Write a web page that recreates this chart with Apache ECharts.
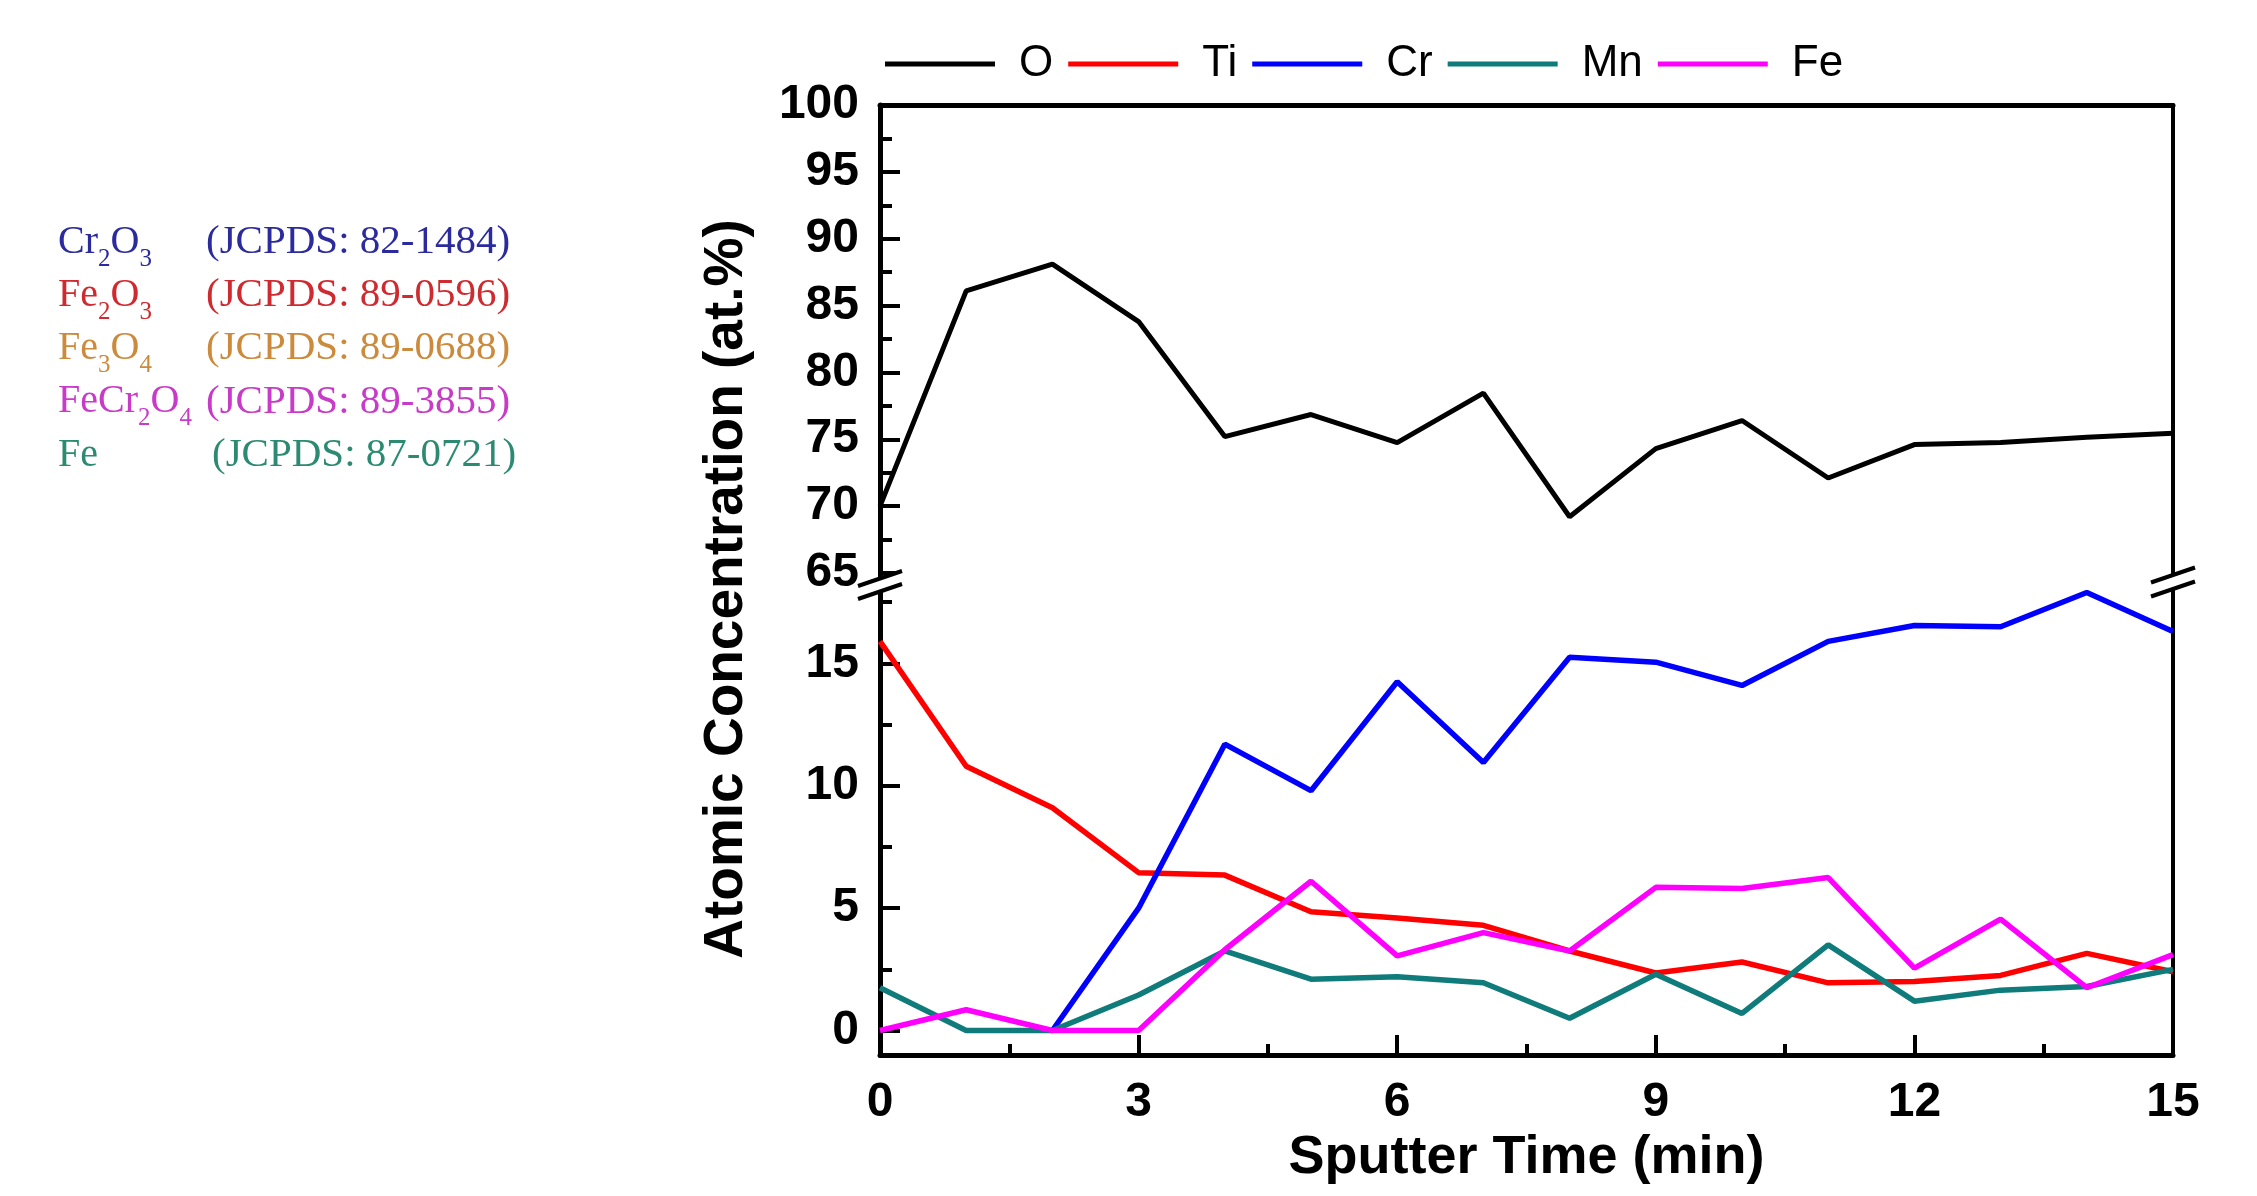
<!DOCTYPE html>
<html>
<head>
<meta charset="utf-8">
<script src="https://cdn.jsdelivr.net/npm/echarts@6/dist/echarts.min.js"></script>
<style>html,body{margin:0;padding:0;background:#fff}#c{width:2257px;height:1196px}</style>
</head>
<body>
<div id="c"></div>
<script>
// ---------- data ----------
const sputterTime = [0, 1, 2, 3, 4, 5, 6, 7, 8, 9, 10, 11, 12, 13, 14, 15];
const seriesNames = ['O', 'Ti', 'Cr', 'Mn', 'Fe'];
const seriesColors = ['#000000', '#ff0000', '#0000ff', '#0f7b7b', '#ff00ff'];
const O  = [70.0, 86.1, 88.1, 83.8, 75.2, 76.85, 74.75, 78.45, 69.2, 74.3, 76.4, 72.1, 74.6, 74.75, 75.15, 75.45];
const Ti = [15.9, 10.8, 9.1, 6.45, 6.35, 4.85, 4.6, 4.3, 3.25, 2.35, 2.8, 1.95, 2.0, 2.25, 3.15, 2.4];
const Cr = [null, null, 0, 5.0, 11.7, 9.8, 14.25, 10.95, 15.25, 15.05, 14.1, 15.9, 16.55, 16.5, 17.9, 16.3];
const Mn = [1.75, 0, 0, 1.45, 3.25, 2.1, 2.2, 1.95, 0.5, 2.3, 0.7, 3.5, 1.2, 1.65, 1.8, 2.5];
const Fe = [0, 0.85, 0, 0, 3.3, 6.1, 3.05, 4.0, 3.25, 5.85, 5.8, 6.25, 2.55, 4.55, 1.75, 3.1];

const xTickInterval = 3;
const upperRange = [64.6, 100];
const upperTicks = [65, 70, 75, 80, 85, 90, 95, 100];
const upperMinorTicks = [67.5, 72.5, 77.5, 82.5, 87.5, 92.5, 97.5];
const lowerRange = [-1, 18];
const lowerTicks = [0, 5, 10, 15];
const lowerMinorTicks = [2.5, 7.5, 12.5, 17.5];

const xTitle = 'Sputter Time (min)';
const yTitle = 'Atomic Concentration (at.%)';

const phaseFormulas = ['Cr_2O_3', 'Fe_2O_3', 'Fe_3O_4', 'FeCr_2O_4', 'Fe'];
const phaseRefs = ['(JCPDS: 82-1484)', '(JCPDS: 89-0596)', '(JCPDS: 89-0688)', '(JCPDS: 89-3855)', '(JCPDS: 87-0721)'];
const phaseColors = ['#2b2b9e', '#cf2a2f', '#cc8a3c', '#c83ac8', '#2c8a72'];

// ---------- layout ----------
const PL = 880, PR = 2173;
const UT = 105, UB = 578.3;
const LT = 590, LB = 1055;
const FONT = "'Liberation Sans', Arial, sans-serif";
const SERIF = "'Liberation Serif', 'Times New Roman', serif";
const AXW = 5;

function pairs(arr) { return arr.map((v, i) => [sputterTime[i], v]); }

const tickLabel = { fontFamily: FONT, fontWeight: 'bold', fontSize: 48, color: '#000' };

function yAxesFor(gridIndex, range, ticks, minorTicks) {
  return [
    { gridIndex, type: 'value', position: 'left', min: range[0], max: range[1],
      axisLine: { show: true, onZero: false, lineStyle: { color: '#000', width: AXW } },
      axisTick: { show: true, inside: true, length: 20, customValues: ticks, lineStyle: { color: '#000', width: 4 } },
      axisLabel: Object.assign({ show: true, margin: 21, customValues: ticks }, tickLabel),
      splitLine: { show: false } },
    { gridIndex, type: 'value', position: 'left', min: range[0], max: range[1],
      axisLine: { show: false },
      axisTick: { show: true, inside: true, length: 12, customValues: minorTicks, lineStyle: { color: '#000', width: 4 } },
      axisLabel: { show: false }, splitLine: { show: false } },
    { gridIndex, type: 'value', position: 'right', min: range[0], max: range[1],
      axisLine: { show: true, onZero: false, lineStyle: { color: '#000', width: 4 } },
      axisTick: { show: false }, axisLabel: { show: false }, splitLine: { show: false } }
  ];
}

function formulaRich(f) {
  return f.replace(/_(\d)/g, '{s|$1}');
}

function breakMark(cx, cy1, cy2) {
  const dx = 22, dy = 7.5;
  return [
    { type: 'polygon', z: 100, shape: { points: [[cx - dx, cy1 + dy], [cx + dx, cy1 - dy], [cx + dx, cy2 - dy], [cx - dx, cy2 + dy]] },
      style: { fill: '#fff' } },
    { type: 'line', z: 101, shape: { x1: cx - dx, y1: cy1 + dy, x2: cx + dx, y2: cy1 - dy }, style: { stroke: '#000', lineWidth: 4 } },
    { type: 'line', z: 101, shape: { x1: cx - dx, y1: cy2 + dy, x2: cx + dx, y2: cy2 - dy }, style: { stroke: '#000', lineWidth: 4 } }
  ];
}

const graphics = [];
phaseFormulas.forEach((f, i) => {
  const y = 242 + i * 53.3;
  graphics.push({ type: 'text', x: 58, y, z: 50,
    style: { text: formulaRich(f), fill: phaseColors[i], font: '40px ' + SERIF, textVerticalAlign: 'middle', textAlign: 'left',
      rich: { s: { fontSize: 25, fontFamily: SERIF, fill: phaseColors[i], padding: [34, 0, 0, 0] } } } });
  graphics.push({ type: 'text', x: i === 4 ? 212 : 206, y, z: 50,
    style: { text: phaseRefs[i], fill: phaseColors[i], font: '41px ' + SERIF, textVerticalAlign: 'middle', textAlign: 'left' } });
});
graphics.push({ type: 'text', x: 727, y: 589, rotation: Math.PI / 2, z: 50,
  style: { text: yTitle, font: 'bold 55px ' + FONT, fill: '#000', textAlign: 'center', textVerticalAlign: 'middle' } });
graphics.push(...breakMark(PL, 578.5, 591.5));
graphics.push(...breakMark(PR, 575, 589));

const dataSets = [O, Ti, Cr, Mn, Fe];
const series = seriesNames.map((name, i) => ({
  name, type: 'line', data: pairs(dataSets[i]), symbol: 'none', smooth: false, connectNulls: false,
  xAxisIndex: i === 0 ? 0 : 1, yAxisIndex: i === 0 ? 0 : 3,
  lineStyle: { color: seriesColors[i], width: i === 0 ? 5 : 5.5 },
  itemStyle: { color: seriesColors[i] },
  z: 2 + i, animation: false
}));

const chart = echarts.init(document.getElementById('c'), null, { renderer: 'canvas' });
chart.setOption({
  animation: false,
  backgroundColor: '#fff',
  legend: {
    left: PL, top: 37, icon: 'rect', itemWidth: 110, itemHeight: 5, itemGap: 15,
    data: seriesNames,
    textStyle: { fontFamily: FONT, fontSize: 44, color: '#000', padding: [0, 0, 0, 19] }
  },
  grid: [
    { left: PL, top: UT, width: PR - PL, height: UB - UT },
    { left: PL, top: LT, width: PR - PL, height: LB - LT }
  ],
  xAxis: [
    { gridIndex: 0, type: 'value', position: 'top', min: 0, max: 15, interval: xTickInterval,
      axisLine: { show: true, onZero: false, lineStyle: { color: '#000', width: AXW } },
      axisTick: { show: false }, axisLabel: { show: false }, splitLine: { show: false } },
    { gridIndex: 1, type: 'value', position: 'bottom', min: 0, max: 15, interval: xTickInterval,
      axisLine: { show: true, onZero: false, lineStyle: { color: '#000', width: AXW } },
      axisTick: { show: true, inside: true, length: 20, lineStyle: { color: '#000', width: 4 } },
      minorTick: { show: true, splitNumber: 2, length: 11, lineStyle: { color: '#000', width: 4 } },
      axisLabel: Object.assign({ margin: 24 }, tickLabel),
      splitLine: { show: false }, minorSplitLine: { show: false },
      name: xTitle, nameLocation: 'middle', nameGap: 76,
      nameTextStyle: { fontFamily: FONT, fontWeight: 'bold', fontSize: 54, color: '#000' } }
  ],
  yAxis: [
    ...yAxesFor(0, upperRange, upperTicks, upperMinorTicks),
    ...yAxesFor(1, lowerRange, lowerTicks, lowerMinorTicks)
  ],
  series,
  graphic: graphics
});
</script>
</body>
</html>
